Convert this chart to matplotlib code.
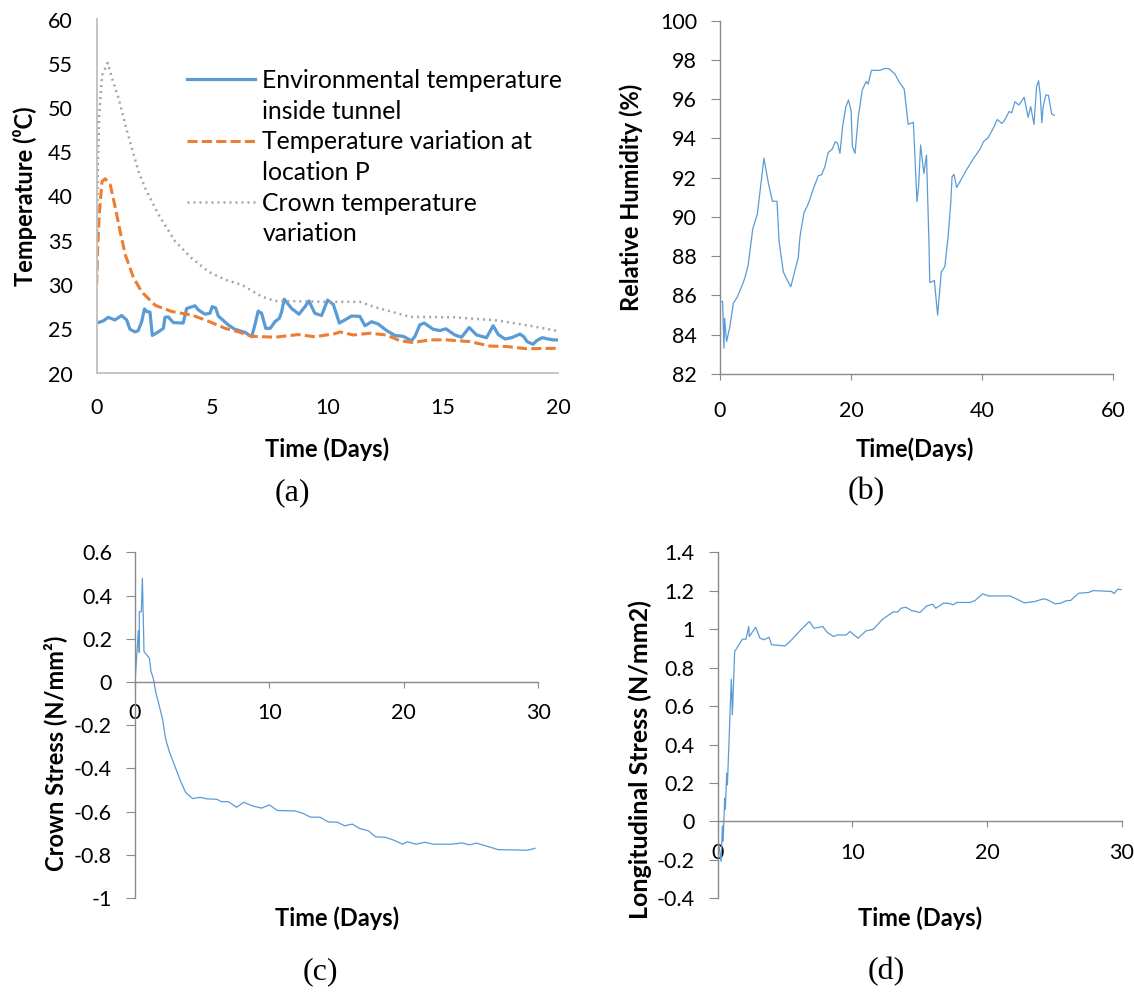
import matplotlib
matplotlib.use('Agg')
import matplotlib.pyplot as plt
from matplotlib.lines import Line2D
from matplotlib.ticker import FuncFormatter, MultipleLocator

plt.rcParams['font.family'] = ['Lato', 'DejaVu Sans']

# ---------------- data ----------------
# (a) temperatures, time in days
env_t = [0, 0.29, 0.5, 0.79, 1.08, 1.3, 1.44, 1.66, 1.8, 1.95, 2.07, 2.17, 2.31, 2.41, 2.67,
         2.89, 2.96, 3.1, 3.32, 3.75, 3.9, 4.26, 4.4, 4.69, 4.91, 5.01, 5.16, 5.27, 5.7, 5.99,
         6.43, 6.72, 6.86, 7.0, 7.15, 7.33, 7.52, 7.73, 7.92, 8.02, 8.13, 8.45, 8.77, 9.03, 9.2,
         9.46, 9.75, 10.01, 10.26, 10.52, 10.76, 11.05, 11.41, 11.63, 11.92, 12.2, 12.57, 12.93,
         13.29, 13.65, 13.8, 14.01, 14.2, 14.59, 14.88, 15.14, 15.53, 15.82, 16.15, 16.47, 16.9,
         17.19, 17.41, 17.7, 17.99, 18.35, 18.52, 18.66, 18.92, 19.07, 19.31, 19.57, 19.77, 20.0]
env_temp = [25.7, 25.95, 26.35, 26.05, 26.55, 26.05, 25.0, 24.7, 24.85, 25.85, 27.3, 27.0, 26.95,
            24.3, 24.7, 25.1, 26.35, 26.4, 25.75, 25.7, 27.35, 27.65, 27.2, 26.7, 26.8, 27.55,
            27.4, 26.5, 25.5, 25.0, 24.65, 24.15, 25.5, 27.05, 26.8, 25.1, 25.1, 25.85, 26.25,
            27.0, 28.4, 27.35, 26.7, 27.55, 28.2, 26.8, 26.55, 28.3, 27.8, 25.7, 26.05, 26.5,
            26.45, 25.4, 25.85, 25.6, 24.85, 24.3, 24.2, 23.7, 24.2, 25.5, 25.7, 25.0, 24.85,
            25.05, 24.35, 24.1, 25.2, 24.35, 24.05, 25.4, 24.4, 23.9, 24.05, 24.45, 24.15, 23.6,
            23.3, 23.7, 24.05, 23.9, 23.8, 23.8]

p_t = [0, 0.04, 0.11, 0.23, 0.37, 0.59, 0.81, 1.02, 1.24, 1.6, 1.96, 2.54, 3.26, 4.13, 4.85,
       5.57, 6.15, 6.72, 7.73, 8.74, 9.46, 10.33, 10.55, 11.12, 11.85, 12.57, 13.15, 13.72,
       14.45, 15.17, 16.18, 17.05, 17.77, 18.64, 20.0]
p_temp = [30.0, 34.1, 37.9, 41.7, 42.0, 41.3, 38.7, 36.0, 33.4, 30.8, 29.2, 27.7, 27.0, 26.6,
          25.9, 25.1, 24.7, 24.2, 24.1, 24.4, 24.15, 24.5, 24.7, 24.35, 24.55, 24.35, 23.7,
          23.5, 23.8, 23.8, 23.6, 23.1, 23.05, 22.8, 22.85]

crown_t = [0, 0.05, 0.11, 0.23, 0.48, 0.66, 0.95, 1.24, 1.53, 1.82, 2.11, 2.69, 3.41, 4.13,
           4.85, 5.57, 6.3, 7.15, 7.73, 10.04, 11.4, 12.0, 13.58, 15.5, 17.34, 18.78, 20.0]
crown_temp = [30.0, 43.6, 49.2, 53.7, 55.1, 53.4, 51.1, 48.1, 45.4, 42.8, 40.9, 37.9, 34.9,
              33.0, 31.5, 30.6, 30.0, 28.7, 28.2, 28.1, 28.1, 27.55, 26.4, 26.35, 26.0, 25.4,
              24.8]

legend_lines = ['Environmental temperature', 'inside tunnel', 'Temperature variation at',
                'location P', 'Crown temperature', 'variation']

# (b) relative humidity
rh_t = [0, 0.4, 0.6, 0.7, 1.0, 1.5, 2.03, 2.6, 3.3, 3.8, 4.3, 5.0, 5.7, 6.7, 7.4, 8.0, 8.7,
        9.0, 9.66, 10.3, 10.8, 11.3, 11.95, 12.2, 12.8, 13.5, 14.2, 15.0, 15.5, 16.0, 16.5,
        17.1, 17.6, 17.95, 18.3, 18.7, 19.2, 19.6, 20.0, 20.2, 20.6, 21.1, 21.7, 22.3, 22.6,
        23.1, 23.6, 24.4, 25.2, 25.8, 26.7, 27.3, 28.1, 28.7, 29.5, 30.05, 30.3, 30.6, 31.1,
        31.5, 31.9, 32.0, 32.7, 33.2, 33.76, 34.3, 34.8, 35.2, 35.4, 35.7, 36.1, 36.6, 37.6,
        38.6, 39.66, 40.2, 40.9, 41.7, 42.3, 42.96, 43.3, 44.1, 44.5, 45.0, 45.6, 46.4, 47.0,
        47.4, 47.9, 48.3, 48.6, 48.86, 49.1, 49.3, 49.7, 50.1, 50.6, 51.0]
rh = [85.69, 85.69, 83.31, 84.84, 83.65, 84.4, 85.6, 85.9, 86.45, 86.9, 87.55, 89.4, 90.15,
      92.99, 91.7, 90.8, 90.8, 88.8, 87.2, 86.75, 86.45, 87.1, 87.95, 89.0, 90.2, 90.7, 91.4,
      92.1, 92.15, 92.56, 93.28, 93.45, 93.84, 93.75, 93.24, 94.6, 95.62, 95.96, 95.42, 93.58,
      93.24, 95.1, 96.47, 96.9, 96.77, 97.47, 97.47, 97.47, 97.57, 97.55, 97.28, 96.89, 96.52,
      94.72, 94.82, 90.78, 91.58, 93.67, 92.22, 93.16, 88.4, 86.66, 86.76, 85.0, 87.2, 87.47,
      89.0, 90.7, 92.05, 92.17, 91.5, 91.8, 92.4, 92.94, 93.45, 93.84, 94.04, 94.52, 94.97,
      94.77, 94.86, 95.37, 95.31, 95.87, 95.7, 96.1, 95.08, 95.62, 94.72, 96.64, 96.94,
      96.21, 94.8, 95.62, 96.21, 96.2, 95.25, 95.18]

# (c) crown stress
cs_t = [0, 0.25, 0.32, 0.32, 0.47, 0.55, 0.67, 1.07, 1.19, 1.36, 1.56, 1.74, 2.06, 2.28, 2.55,
        2.98, 3.4, 3.77, 4.29, 4.84, 5.33, 6.08, 6.45, 6.94, 7.56, 8.1, 8.75, 9.42, 9.99,
        10.59, 11.9, 12.47, 13.07, 13.76, 14.38, 15.05, 15.6, 16.17, 16.7, 17.36, 17.9, 18.6,
        19.2, 19.9, 20.25, 20.9, 21.57, 22.19, 23.6, 24.3, 24.9, 25.4, 26.16, 27.0, 27.77,
        29.2, 29.75]
crown_stress = [0, 0.237, 0.136, 0.325, 0.325, 0.48, 0.14, 0.11, 0.048, 0.017, -0.052, -0.094,
                -0.176, -0.265, -0.322, -0.392, -0.461, -0.512, -0.54, -0.534, -0.541, -0.543,
                -0.554, -0.554, -0.58, -0.557, -0.574, -0.584, -0.569, -0.595, -0.597, -0.608,
                -0.626, -0.626, -0.648, -0.649, -0.666, -0.658, -0.678, -0.689, -0.717, -0.719,
                -0.731, -0.751, -0.74, -0.751, -0.742, -0.751, -0.751, -0.745, -0.754, -0.746,
                -0.76, -0.776, -0.777, -0.779, -0.77]

# (d) longitudinal stress
ls_t = [0.05, 0.25, 0.35, 0.4, 0.52, 0.57, 0.67, 0.72, 1.01, 1.09, 1.26, 1.84, 2.1, 2.3, 2.35,
        2.82, 3.14, 3.44, 3.81, 4.0, 5.0, 5.37, 6.36, 6.81, 7.15, 7.8, 8.14, 8.59, 8.89, 9.53,
        9.83, 10.42, 11.01, 11.56, 12.25, 13.04, 13.37, 13.61, 13.98, 14.4, 15.02, 15.52,
        15.96, 16.19, 16.76, 17.13, 17.5, 17.75, 18.74, 19.11, 19.68, 20.1, 21.7, 22.08,
        22.77, 23.56, 24.18, 24.48, 25.05, 25.47, 25.92, 26.2, 26.8, 27.53, 27.9, 29.26,
        29.43, 29.7, 29.95]
long_stress = [-0.104, -0.208, -0.023, -0.104, 0.121, 0.064, 0.251, 0.19, 0.74, 0.555, 0.884,
               0.948, 0.948, 1.014, 0.962, 1.01, 0.953, 0.945, 0.958, 0.919, 0.913, 0.936,
               1.01, 1.04, 1.005, 1.014, 0.983, 0.962, 0.97, 0.97, 0.988, 0.953, 0.991, 1.0,
               1.052, 1.09, 1.089, 1.109, 1.114, 1.097, 1.087, 1.121, 1.13, 1.109, 1.135,
               1.135, 1.127, 1.139, 1.139, 1.149, 1.184, 1.173, 1.173, 1.161, 1.137, 1.144,
               1.158, 1.153, 1.132, 1.135, 1.149, 1.149, 1.187, 1.191, 1.201, 1.196, 1.185,
               1.208, 1.206]

BLUE = '#5B9BD5'
ORANGE = '#ED7D31'
GREY = '#A5A5A5'
AXIS_LIGHT = '#BFBFBF'
AXIS_DARK = '#898989'
TICK_FS = 15.5
LABEL_FS = 17

W, H = 1134, 996
fig = plt.figure(figsize=(W / 100, H / 100), dpi=100)


def add_axes_px(left, top, right, bottom):
    return fig.add_axes([left / W, 1 - bottom / H, (right - left) / W, (bottom - top) / H])


def excel_fmt(v, pos):
    return f"{round(v, 6) + 0.0:g}"


def label_axes(ax, xlabel, ylabel, xl_pos, yl_pos, yfs=LABEL_FS):
    ax.set_xlabel(xlabel, fontsize=LABEL_FS, fontweight='bold', va='center')
    ax.set_ylabel(ylabel, fontsize=yfs, fontweight='bold', va='center')
    ax.xaxis.set_label_coords(*xl_pos)
    ax.yaxis.set_label_coords(*yl_pos)


# ---------------- (a) ----------------
ax = add_axes_px(96.7, 19.5, 558, 373.5)
ax.plot(env_t, env_temp, color=BLUE, lw=2.3)
ax.plot(p_t, p_temp, color=ORANGE, lw=2.2, linestyle=(0, (3.3, 1.4)))
ax.plot(crown_t, crown_temp, color=GREY, lw=1.8, linestyle=(0, (0.8, 1.6)))
ax.set_xlim(0, 20)
ax.set_ylim(20, 60)
ax.xaxis.set_major_locator(MultipleLocator(5))
ax.yaxis.set_major_locator(MultipleLocator(5))
for s in ['top', 'right']:
    ax.spines[s].set_visible(False)
for s in ['left', 'bottom']:
    ax.spines[s].set_color(AXIS_LIGHT)
    ax.spines[s].set_linewidth(1.3)
ax.tick_params(axis='both', length=0, labelsize=TICK_FS)
ax.tick_params(axis='y', pad=17)
ax.tick_params(axis='x', pad=18)
label_axes(ax, 'Time (Days)', 'Temperature (\u2070C)', (0.5, -0.213), (-0.155, 0.5))

handles = [Line2D([], [], color=BLUE, lw=2.3), Line2D([], [], color='none'),
           Line2D([], [], color=ORANGE, lw=2.2, linestyle=(0, (3.3, 1.4))),
           Line2D([], [], color='none'),
           Line2D([], [], color=GREY, lw=1.8, linestyle=(0, (0.8, 1.6))),
           Line2D([], [], color='none')]
ax.legend(handles, legend_lines, loc='upper left', bbox_to_anchor=(0.195, 0.86),
          frameon=False, fontsize=17.8, handlelength=2.75, handletextpad=0.31,
          labelspacing=0.31, borderpad=0, borderaxespad=0)

# ---------------- (b) ----------------
ax = add_axes_px(720, 20.7, 1113.3, 374)
ax.plot(rh_t, rh, color=BLUE, lw=0.9)
ax.set_xlim(0, 60)
ax.set_ylim(82, 100)
ax.xaxis.set_major_locator(MultipleLocator(20))
ax.yaxis.set_major_locator(MultipleLocator(2))

# ---------------- (c) ----------------
ax_c = add_axes_px(135, 552.3, 538.3, 898)
ax_c.plot(cs_t, crown_stress, color=BLUE, lw=0.9)
ax_c.set_xlim(0, 30)
ax_c.set_ylim(-1, 0.6)

# ---------------- (d) ----------------
ax_d = add_axes_px(717.7, 552.3, 1121.7, 898.3)
ax_d.plot(ls_t, long_stress, color=BLUE, lw=0.9)
ax_d.set_xlim(0, 30)
ax_d.set_ylim(-0.4, 1.4)

for a in [ax, ax_c, ax_d]:
    for s in ['top', 'right']:
        a.spines[s].set_visible(False)
    for s in ['left', 'bottom']:
        a.spines[s].set_color(AXIS_DARK)
        a.spines[s].set_linewidth(1.0)
    a.tick_params(axis='both', color=AXIS_DARK, direction='out', labelsize=TICK_FS)
    a.tick_params(axis='y', length=6.5, pad=10)
    a.yaxis.set_major_formatter(FuncFormatter(excel_fmt))

ax.tick_params(axis='x', length=4.5, pad=15)
label_axes(ax, 'Time(Days)', 'Relative Humidity (%)', (0.496, -0.212), (-0.226, 0.5))

for a in [ax_c, ax_d]:
    a.spines['bottom'].set_position(('data', 0))
    a.xaxis.set_major_locator(MultipleLocator(10))
    a.yaxis.set_major_locator(MultipleLocator(0.2))
    a.tick_params(axis='x', length=4.5, pad=11)

label_axes(ax_c, 'Time (Days)', 'Crown Stress (N/mm\u00b2)', (0.5, -0.058), (-0.198, 0.419))
label_axes(ax_d, 'Time (Days)', 'Longitudinal Stress (N/mm2)', (0.5, -0.058), (-0.192, 0.40),
           yfs=18)

# ---------------- captions ----------------
for label, x, y in [('(a)', 292, 493), ('(b)', 866, 492), ('(c)', 320, 972), ('(d)', 886, 972)]:
    fig.text(x / W, 1 - y / H, label, ha='center', va='center', fontsize=23,
             family='Liberation Serif')

fig.savefig('out.png', dpi=100, facecolor='white')
